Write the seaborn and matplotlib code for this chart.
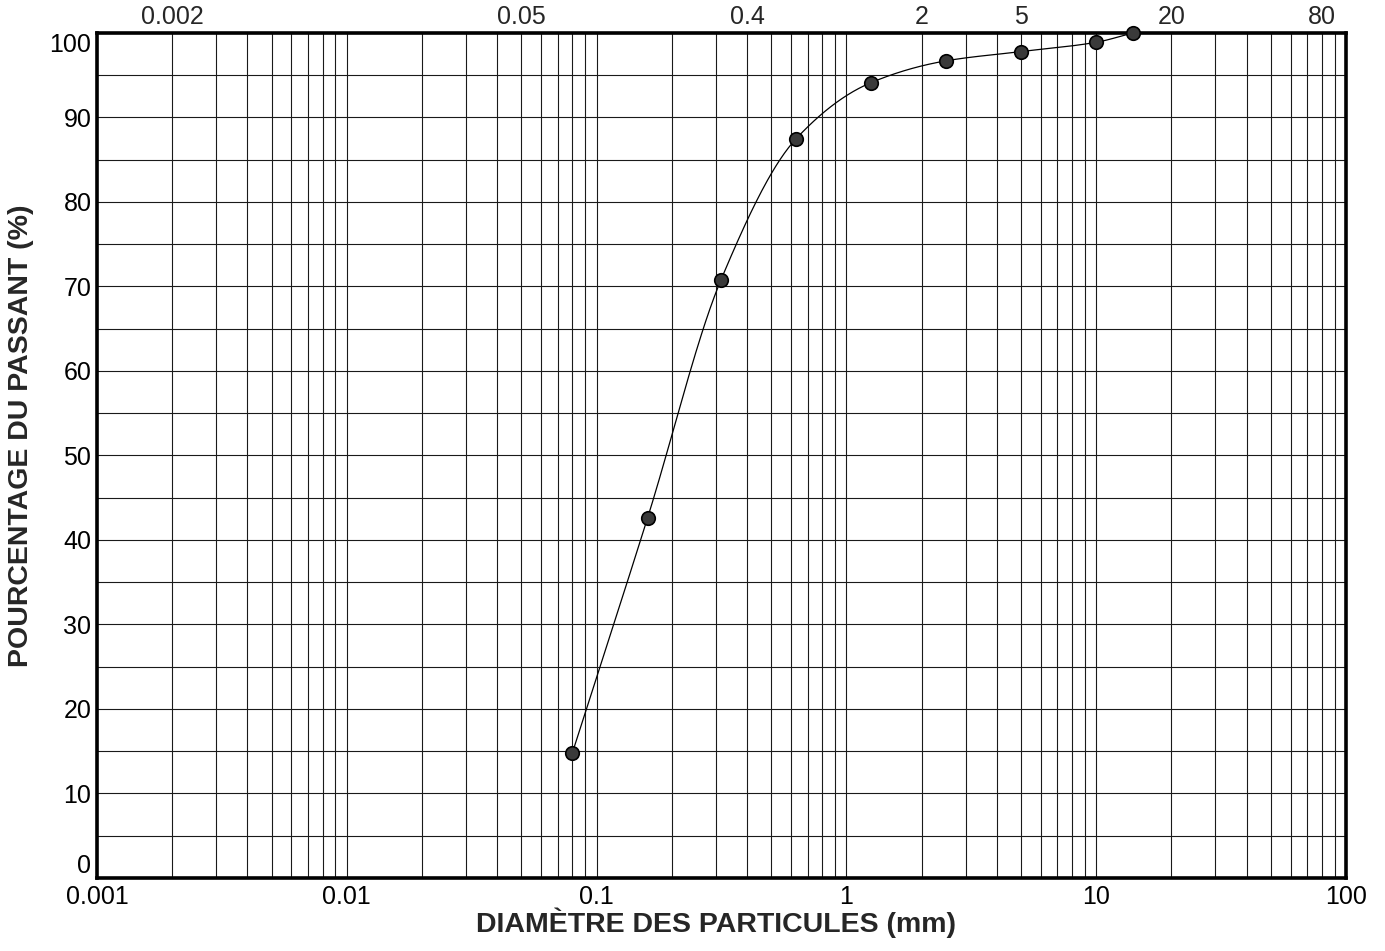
import numpy as np
import pandas as pd
import matplotlib
matplotlib.use("Agg")
import matplotlib.pyplot as plt
import seaborn as sns
from matplotlib.ticker import FixedLocator, NullFormatter

# Sieve analysis results: particle diameter (mm) vs. percent passing
diametre_mm = [0.08, 0.16, 0.315, 0.63, 1.25, 2.5, 5.0, 10.0, 14.0]
passant_pct = [14.8, 42.6, 70.8, 87.5, 94.1, 96.7, 97.8, 98.9, 100.0]

bottom_ticks = [0.001, 0.01, 0.1, 1, 10, 100]
bottom_labels = ["0.001", "0.01", "0.1", "1", "10", "100"]
top_ticks = [0.002, 0.05, 0.4, 2, 5, 20, 80]
top_labels = ["0.002", "0.05", "0.4", "2", "5", "20", "80"]
y_ticks = list(range(0, 101, 10))


def monotone_curve(x, y, n=400):
    """Fritsch-Carlson monotone cubic through the measured points (log-x space)."""
    x = np.asarray(x, float)
    y = np.asarray(y, float)
    h = np.diff(x)
    d = np.diff(y) / h
    m = np.zeros_like(y)
    m[0], m[-1] = d[0], d[-1]
    for k in range(1, len(x) - 1):
        if d[k - 1] * d[k] <= 0:
            m[k] = 0.0
        else:
            w1 = 2 * h[k] + h[k - 1]
            w2 = h[k] + 2 * h[k - 1]
            m[k] = (w1 + w2) / (w1 / d[k - 1] + w2 / d[k])
    xs = np.linspace(x[0], x[-1], n)
    idx = np.clip(np.searchsorted(x, xs) - 1, 0, len(x) - 2)
    t = (xs - x[idx]) / h[idx]
    h00 = 2 * t**3 - 3 * t**2 + 1
    h10 = t**3 - 2 * t**2 + t
    h01 = -2 * t**3 + 3 * t**2
    h11 = t**3 - t**2
    ys = (h00 * y[idx] + h10 * h[idx] * m[idx]
          + h01 * y[idx + 1] + h11 * h[idx] * m[idx + 1])
    return xs, ys


sns.set_style("white")
plt.rcParams["font.family"] = ["Liberation Sans", "DejaVu Sans"]

fig = plt.figure(figsize=(13.85, 9.51), dpi=100)
ax = fig.add_axes([0.0700, 0.0768, 0.9018, 0.8885])

# smooth gradation curve
lx, ly = monotone_curve(np.log10(diametre_mm), passant_pct)
curve = pd.DataFrame({"d": 10 ** lx, "p": ly})
sns.lineplot(data=curve, x="d", y="p", ax=ax, color="black", linewidth=0.9,
             estimator=None, sort=False, zorder=4)

pts = pd.DataFrame({"d": diametre_mm, "p": passant_pct})
sns.scatterplot(data=pts, x="d", y="p", ax=ax, s=95, color="#3a3a3a",
                edgecolor="black", linewidth=1.2, zorder=6, clip_on=False)

ax.set_xscale("log")
ax.set_xlim(0.001, 100)
ax.set_ylim(0, 100)

# semi-log paper grid
ax.xaxis.set_major_locator(FixedLocator(bottom_ticks))
minor_x = [k * 10.0**e for e in range(-3, 2) for k in range(2, 10)]
ax.xaxis.set_minor_locator(FixedLocator(minor_x))
ax.xaxis.set_minor_formatter(NullFormatter())
ax.set_xticklabels(bottom_labels)
ax.set_yticks(y_ticks)
ax.set_yticks(list(range(5, 100, 10)), minor=True)
ax.grid(which="both", axis="both", color="#1a1a1a", linewidth=0.8)
ax.set_axisbelow(True)

ax.tick_params(axis="both", which="both", length=0, labelsize=18, colors="black")
ax.tick_params(axis="x", pad=5)
ax.tick_params(axis="y", pad=4)
ylabels = ax.get_yticklabels()
ylabels[0].set_verticalalignment("bottom")
ylabels[-1].set_verticalalignment("top")

for sp in ax.spines.values():
    sp.set_visible(True)
    sp.set_color("black")
    sp.set_linewidth(2.6)
    sp.set_zorder(5)

# top scale with sieve-size references
top = ax.twiny()
top.set_xscale("log")
top.set_xlim(ax.get_xlim())
top.xaxis.set_major_locator(FixedLocator(top_ticks))
top.xaxis.set_minor_locator(FixedLocator([]))
top.set_xticklabels(top_labels)
top.tick_params(axis="x", length=0, labelsize=18, pad=3)
for sp in top.spines.values():
    sp.set_visible(False)

ax.set_xlabel("DIAMÈTRE DES PARTICULES (mm)", fontsize=20.5, fontweight="bold")
ax.set_ylabel("POURCENTAGE DU PASSANT (%)", fontsize=20.5, fontweight="bold")
ax.xaxis.set_label_coords(0.496, -0.035)
ax.yaxis.set_label_coords(-0.0504, 0.523)

fig.savefig("out.png", dpi=100, facecolor="white")
